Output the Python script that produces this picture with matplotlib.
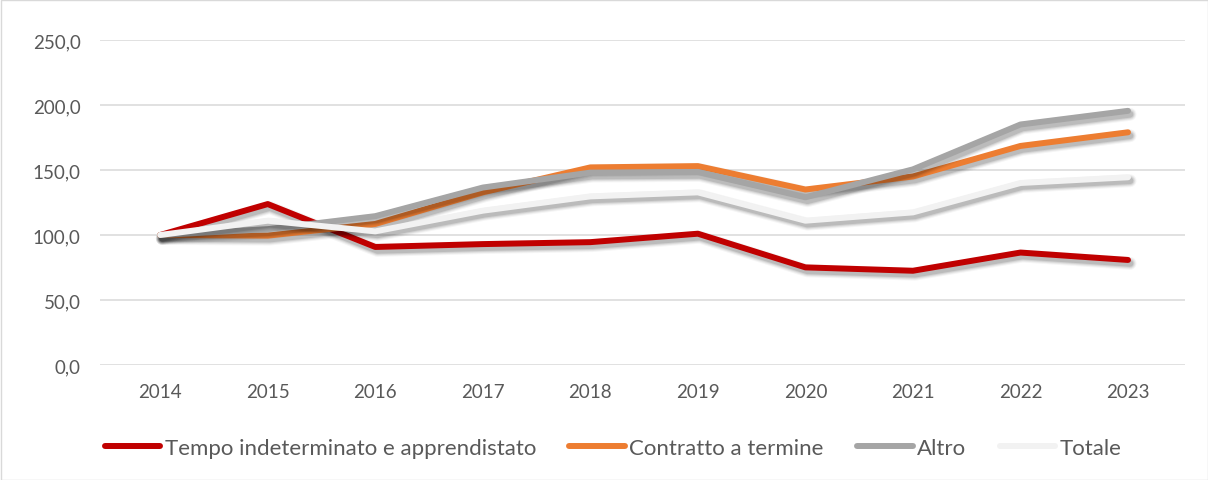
import matplotlib
matplotlib.use("Agg")
import matplotlib.pyplot as plt
import matplotlib.patheffects as pe
from matplotlib.patches import Rectangle
from matplotlib.lines import Line2D

anni = ["2014", "2015", "2016", "2017", "2018", "2019", "2020", "2021", "2022", "2023"]
tempo_ind = [100.0, 123.8, 90.8, 93.0, 94.5, 101.0, 75.1, 72.5, 86.5, 80.8]
contratto = [100.0, 99.5, 108.5, 132.8, 152.0, 153.0, 135.0, 145.0, 168.5, 179.0]
altro = [100.0, 104.5, 114.5, 136.5, 148.0, 148.5, 129.0, 150.5, 185.0, 195.5]
totale = [100.0, 111.0, 102.8, 118.7, 129.7, 132.8, 111.0, 117.4, 140.0, 144.4]

serie = [
    ("Tempo indeterminato e apprendistato", tempo_ind, "#C00000"),
    ("Contratto a termine", contratto, "#ED7D31"),
    ("Altro", altro, "#A5A5A5"),
    ("Totale", totale, "#F2F2F2"),
]

plt.rcParams['font.family'] = ['Lato', 'DejaVu Sans']
TXT = "#595959"
LW = 4.3

fig = plt.figure(figsize=(12.08, 4.81), dpi=100)
ax = fig.add_axes([100/1208, 1 - 366/481, 1085/1208, 325/481])

def shadow():
    fx = []
    for extra, a in [(5, 0.04), (3.5, 0.06), (2, 0.08), (0.5, 0.11)]:
        fx.append(pe.SimpleLineShadow(offset=(1.5, -2.5), shadow_color='k',
                                      alpha=a, linewidth=LW + extra))
    fx.append(pe.Normal())
    return fx

x = list(range(len(anni)))
handles = []
for nome, vals, col in serie:
    ax.plot(x, vals, color=col, lw=LW, solid_capstyle='round',
            solid_joinstyle='round', path_effects=shadow())
    handles.append(Line2D([], [], color=col, lw=LW, solid_capstyle='round', label=nome))

ax.set_xlim(-0.56, 9.53)
ax.set_ylim(0, 250)
ax.set_yticks([0, 50, 100, 150, 200, 250])
ax.set_yticklabels(["0,0", "50,0", "100,0", "150,0", "200,0", "250,0"])
ax.set_xticks(x)
ax.set_xticklabels(anni)
ax.grid(axis='y', color='#D9D9D9', lw=1.1)
ax.set_axisbelow(True)
for s in ax.spines.values():
    s.set_visible(False)
ax.tick_params(axis='both', length=0, labelsize=13.5, colors=TXT)
ax.tick_params(axis='y', pad=14)
ax.tick_params(axis='x', pad=13)

ax.legend(handles=handles, loc='center', bbox_to_anchor=((613 - 100) / 1085, (481 - 449 - 115) / 325),
          ncol=4, frameon=False, fontsize=16, handlelength=2.5,
          handletextpad=0.2, columnspacing=1.5, labelcolor=TXT)

fig.patches.append(Rectangle((0.5/1208, 0.5/481), 1 - 1/1208, 1 - 1/481,
                             transform=fig.transFigure, fill=False,
                             edgecolor='#D9D9D9', lw=1))

fig.savefig("out.png", dpi=100)
